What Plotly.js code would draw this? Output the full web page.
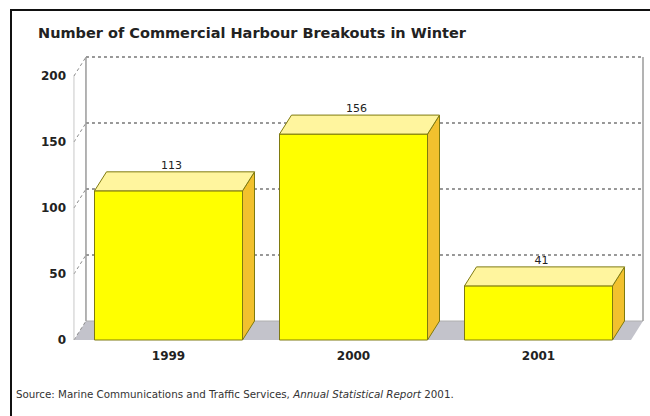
<!DOCTYPE html>
<html>
<head>
<meta charset="utf-8">
<script src="https://cdn.plot.ly/plotly-3.0.1.min.js"></script>
<style>html,body{margin:0;padding:0;background:#fff;}#chart{width:650px;height:416px;}</style>
</head>
<body>
<div id="chart"></div>
<script>
// ---- data ----
var years = ['1999', '2000', '2001'];
var breakouts = [113, 156, 41];
var yTickVals = [0, 50, 100, 150, 200];
var yTickText = ['0', '50', '100', '150', '200'];
var gridVals = [50, 100, 150];

// ---- geometry / style constants ----
var W = 650, H = 416;
var PL = 67, PR = 0, PT = 40, PB = 69;        // plot area margins (px)
var PX_PER_CAT = 185, PX_PER_UNIT = 1.32;    // scale
var X0PX = 168.5, Y0PX = 340;                 // pixel of category 0 / value 0 (front plane)
var plotW = W - PL - PR, plotH = H - PT - PB;
var xr0 = -(X0PX - PL) / PX_PER_CAT, xr1 = xr0 + plotW / PX_PER_CAT;
var yr1 = (Y0PX - PT) / PX_PER_UNIT, yr0 = yr1 - plotH / PX_PER_UNIT;
var DX = 12 / PX_PER_CAT, DY = 19 / PX_PER_UNIT; // 3-D depth offset
var BW = 0.8;                                      // bar width
var AXL = -0.511, AXR = 2.5;                       // front floor edge extent
var YMAX = 200;

var FRONT = '#FFFF00', TOP = '#FFF59E', SIDE = '#F2C12E', EDGE = '#7F7A10';
var FLOOR = '#C3C3CB', WALL = '#9A9A9A';
var FONT = 'DejaVu Sans, Verdana, sans-serif';

function px2paperX(p) { return (p - PL) / plotW; }
function px2paperY(p) { return (H - PB - p) / plotH; }

var shapes = [];
// floor
shapes.push({type: 'path', xref: 'x', yref: 'y', layer: 'below',
  path: 'M' + AXL + ',0 L' + AXR + ',0 L' + (AXR + DX) + ',' + DY + ' L' + (AXL + DX) + ',' + DY + ' Z',
  fillcolor: FLOOR, line: {width: 0}});
// back wall bottom line
shapes.push({type: 'line', xref: 'x', yref: 'y', layer: 'below', x0: AXL + DX, x1: AXR + DX, y0: DY, y1: DY,
  line: {color: '#B0B0B0', width: 1}});
// back wall dotted gridlines (incl. top edge)
gridVals.concat([YMAX]).forEach(function (v) {
  shapes.push({type: 'line', xref: 'x', yref: 'y', layer: 'below', x0: AXL + DX, x1: AXR + DX, y0: v + DY, y1: v + DY,
    line: {color: '#777', width: 1.3, dash: 'dot'}});
});
// side wall slanted gridlines
yTickVals.forEach(function (v) {
  shapes.push({type: 'line', xref: 'x', yref: 'y', layer: 'below', x0: AXL, x1: AXL + DX, y0: v, y1: v + DY,
    line: {color: '#888', width: 1, dash: 'dot'}});
});
// front axis line (light)
shapes.push({type: 'line', xref: 'x', yref: 'y', layer: 'below', x0: AXL, x1: AXL, y0: 0, y1: YMAX,
  line: {color: '#C8C8C8', width: 1}});
// back wall left & right edges
shapes.push({type: 'line', xref: 'x', yref: 'y', layer: 'below', x0: AXL + DX, x1: AXL + DX, y0: DY, y1: YMAX + DY,
  line: {color: WALL, width: 1.5}});
shapes.push({type: 'line', xref: 'x', yref: 'y', layer: 'below', x0: AXR + DX, x1: AXR + DX, y0: DY, y1: YMAX + DY,
  line: {color: WALL, width: 1.5}});
// outer frame
shapes.push({type: 'rect', xref: 'paper', yref: 'paper', layer: 'above',
  x0: px2paperX(11), x1: px2paperX(720), y0: px2paperY(10), y1: px2paperY(520),
  line: {color: '#111', width: 2}, fillcolor: 'rgba(0,0,0,0)'});

var traces = [];
// front faces
traces.push({type: 'bar', x: [0, 1, 2], y: breakouts, width: BW,
  marker: {color: FRONT, line: {color: EDGE, width: 1}}, hoverinfo: 'skip', showlegend: false});
// side and top faces
breakouts.forEach(function (v, i) {
  var xl = i - BW / 2, xr = i + BW / 2;
  traces.push({type: 'scatter', mode: 'lines', fill: 'toself', fillcolor: SIDE,
    x: [xr, xr + DX, xr + DX, xr, xr], y: [0, DY, v + DY, v, 0],
    line: {color: EDGE, width: 1}, hoverinfo: 'skip', showlegend: false});
  traces.push({type: 'scatter', mode: 'lines', fill: 'toself', fillcolor: TOP,
    x: [xl, xr, xr + DX, xl + DX, xl], y: [v, v, v + DY, v + DY, v],
    line: {color: EDGE, width: 1}, hoverinfo: 'skip', showlegend: false});
});
// value labels
traces.push({type: 'scatter', mode: 'text', x: [0, 1, 2].map(function (i) { return i + DX / 4; }),
  y: breakouts.map(function (v) { return v + DY; }), text: breakouts.map(String),
  textposition: 'top center', textfont: {family: FONT, size: 11, color: '#222'},
  hoverinfo: 'skip', showlegend: false});

var layout = {
  width: W, height: H,
  margin: {l: PL, r: PR, t: PT, b: PB, pad: 0},
  paper_bgcolor: '#fff', plot_bgcolor: 'rgba(0,0,0,0)',
  showlegend: false,
  title: {text: '<b>Number of Commercial Harbour Breakouts in Winter</b>',
    xref: 'container', yref: 'container', x: 38 / W, xanchor: 'left', y: 1 - 33 / H, yanchor: 'middle',
    font: {family: FONT, size: 14.5, color: '#222'}},
  xaxis: {range: [xr0, xr1], tickmode: 'array', tickvals: [0, 1, 2], ticktext: years,
    showgrid: false, zeroline: false, showline: false, ticks: '',
    tickfont: {family: FONT, size: 12, color: '#222', weight: 'bold'}, fixedrange: true},
  yaxis: {range: [yr0, yr1], tickmode: 'array', tickvals: yTickVals, ticktext: yTickText,
    showgrid: false, zeroline: false, showline: false, ticks: '',
    tickfont: {family: FONT, size: 12, color: '#222', weight: 'bold'}, fixedrange: true},
  shapes: shapes,
  annotations: [{xref: 'paper', yref: 'paper', x: px2paperX(14), y: px2paperY(394), xanchor: 'left', yanchor: 'middle',
    showarrow: false, text: 'Source: Marine Communications and Traffic Services, <i>Annual Statistical Report</i> 2001.',
    font: {family: FONT, size: 10.3, color: '#333'}}]
};

Plotly.newPlot('chart', traces, layout, {staticPlot: true, displayModeBar: false});
</script>
</body>
</html>
